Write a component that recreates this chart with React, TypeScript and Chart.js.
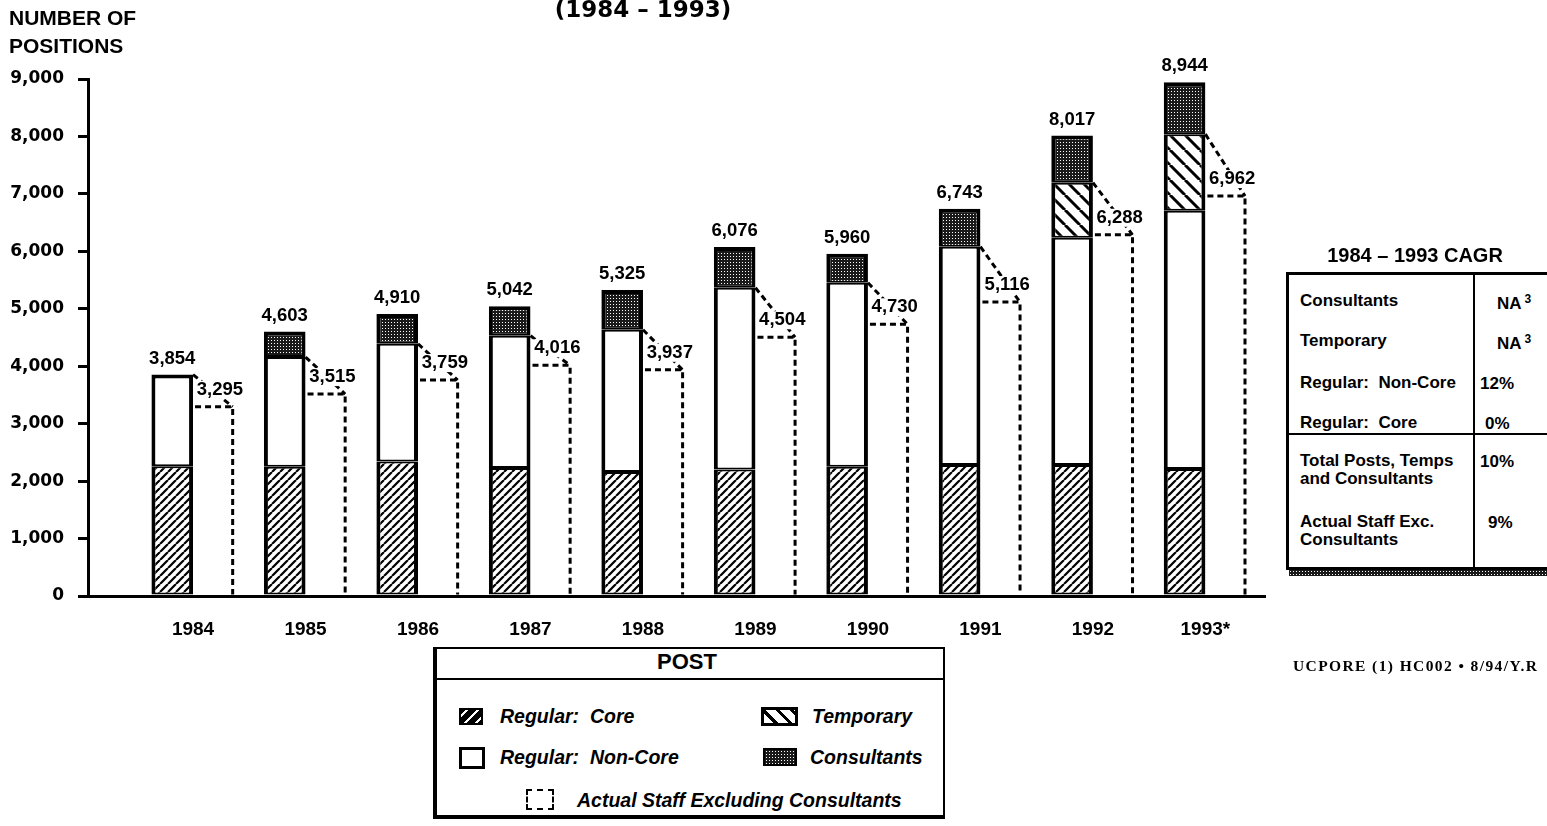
import React, { useEffect, useRef } from 'react';
import { Chart, registerables } from 'chart.js';

Chart.register(...registerables);

// ---------------- data ----------------
const years = ['1984', '1985', '1986', '1987', '1988', '1989', '1990', '1991', '1992', '1993*'];
const regularCore = [2260, 2250, 2340, 2230, 2160, 2200, 2250, 2280, 2280, 2210];
const regularNonCore = [1594, 1910, 2050, 2300, 2474, 3166, 3203, 3800, 3957, 4497];
const temporary = [0, 0, 0, 0, 0, 0, 0, 0, 958, 1333];
const consultants = [0, 443, 520, 512, 691, 710, 507, 663, 822, 904];
const totalPositions = [3854, 4603, 4910, 5042, 5325, 6076, 5960, 6743, 8017, 8944];
const actualStaff = [3295, 3515, 3759, 4016, 3937, 4504, 4730, 5116, 6288, 6962];
const yTicks = [0, 1000, 2000, 3000, 4000, 5000, 6000, 7000, 8000, 9000];

const cagrLabels = ['Consultants', 'Temporary', 'Regular:  Non-Core', 'Regular:  Core', 'Total Posts, Temps\nand Consultants', 'Actual Staff Exc.\nConsultants'];
const cagrValues = ['NA', 'NA', '12%', '0%', '10%', '9%'];
const cagrNotes = ['3', '3', '', '', '', ''];

const legendItems = ['Regular:  Core', 'Regular:  Non-Core', 'Temporary', 'Consultants', 'Actual Staff Excluding Consultants'];

const fmt = (v: number) => v.toLocaleString('en-US');

// ---------------- patterns ----------------
function hatchPattern(ctx: CanvasRenderingContext2D, size: number, dir: '/' | '\\', lw: number) {
  const c = document.createElement('canvas');
  c.width = size;
  c.height = size;
  const x = c.getContext('2d')!;
  x.fillStyle = '#fff';
  x.fillRect(0, 0, size, size);
  x.strokeStyle = '#000';
  x.lineWidth = lw;
  x.beginPath();
  for (const o of [-size, 0, size]) {
    if (dir === '/') {
      x.moveTo(o, size);
      x.lineTo(o + size, 0);
    } else {
      x.moveTo(o, 0);
      x.lineTo(o + size, size);
    }
  }
  x.stroke();
  return ctx.createPattern(c, 'repeat')!;
}

function stipplePattern(ctx: CanvasRenderingContext2D) {
  const c = document.createElement('canvas');
  c.width = 3;
  c.height = 3;
  const x = c.getContext('2d')!;
  x.fillStyle = '#1a1a1a';
  x.fillRect(0, 0, 3, 3);
  x.fillStyle = '#ffffff';
  x.fillRect(1, 1, 1, 1);
  return ctx.createPattern(c, 'repeat')!;
}

// ---------------- overlay plugin ----------------
const overlayPlugin = {
  id: 'overlay',
  afterDatasetsDraw(chart: any) {
    const ctx: CanvasRenderingContext2D = chart.ctx;
    const tempMeta = chart.getDatasetMeta(2);
    const consMeta = chart.getDatasetMeta(3);
    const actMeta = chart.getDatasetMeta(4);
    ctx.save();
    // dashed outline bars for actual staff
    actMeta.data.forEach((el: any, i: number) => {
      const p = el.getProps(['x', 'y', 'base', 'width'], true);
      const s = tempMeta.data[i].getProps(['x', 'y', 'width'], true);
      const left = p.x - p.width / 2;
      const right = p.x + p.width / 2 - 2;
      const sRight = s.x + s.width / 2;
      ctx.strokeStyle = '#000';
      ctx.lineWidth = 3;
      ctx.setLineDash([6, 4]);
      ctx.beginPath();
      ctx.moveTo(sRight, s.y);
      ctx.lineTo(right, p.y);
      ctx.stroke();
      ctx.beginPath();
      ctx.moveTo(left + 2, p.y);
      ctx.lineTo(right, p.y);
      ctx.lineTo(right, p.base);
      ctx.stroke();
    });
    ctx.setLineDash([]);
    // value labels
    ctx.font = 'bold 18.5px "Liberation Sans", Arial, sans-serif';
    ctx.textAlign = 'center';
    ctx.textBaseline = 'middle';
    actMeta.data.forEach((el: any, i: number) => {
      const p = el.getProps(['x', 'y'], true);
      const txt = fmt(actualStaff[i]);
      const w = ctx.measureText(txt).width;
      const cx = p.x + 6;
      const cy = p.y - 17;
      ctx.fillStyle = '#fff';
      ctx.fillRect(cx - w / 2 - 1, cy - 9, w + 2, 18);
      ctx.fillStyle = '#000';
      ctx.fillText(txt, cx, cy);
    });
    consMeta.data.forEach((el: any, i: number) => {
      const p = el.getProps(['x', 'y'], true);
      ctx.fillStyle = '#000';
      ctx.fillText(fmt(totalPositions[i]), p.x, p.y - 16);
    });
    ctx.restore();
  },
};

// ---------------- small text helper ----------------
function Txt(props: { x: number; y: number; size: number; children: any; bold?: boolean; italic?: boolean; center?: boolean; family?: string; style?: any }) {
  const { x, y, size, children, bold = true, italic = false, center = false, family, style } = props;
  return (
    <div
      style={{
        position: 'absolute',
        left: x,
        top: y,
        transform: center ? 'translate(-50%, -50%)' : 'translateY(-50%)',
        fontSize: size,
        fontWeight: bold ? 700 : 400,
        fontStyle: italic ? 'italic' : 'normal',
        fontFamily: family || '"Liberation Sans", Arial, sans-serif',
        whiteSpace: 'pre',
        lineHeight: `${Math.round(size * 1.0)}px`,
        color: '#000',
        ...style,
      }}
    >
      {children}
    </div>
  );
}

const hatchTempCss = 'repeating-linear-gradient(45deg, #fff 0px, #fff 7px, #000 7px, #000 10px)';
const stippleCss = 'radial-gradient(circle, #fff 0.6px, transparent 0.9px) 0 0 / 3px 3px, #1a1a1a';

export default function App() {
  const canvasRef = useRef<HTMLCanvasElement | null>(null);

  useEffect(() => {
    const canvas = canvasRef.current!;
    const ctx = canvas.getContext('2d')!;
    const corePat = hatchPattern(ctx, 8, '/', 2.2);
    const tempPat = hatchPattern(ctx, 15, '\\', 3);
    const consPat = stipplePattern(ctx);

    const pts = (arr: number[]) => arr.map((v, i) => ({ x: i, y: v }));
    const bw = (top: number) => ({ top, bottom: 2, left: 4, right: 4 });

    const chart = new Chart(ctx, {
      type: 'bar',
      data: {
        datasets: [
          { label: 'Regular: Core', data: pts(regularCore), stack: 'posts', backgroundColor: corePat, borderColor: '#000', borderWidth: bw(2), borderSkipped: false },
          {
            label: 'Regular: Non-Core',
            data: pts(regularNonCore),
            stack: 'posts',
            backgroundColor: '#fff',
            borderColor: '#000',
            borderWidth: (c: any) => bw(temporary[c.dataIndex] + consultants[c.dataIndex] === 0 ? 4 : 2),
            borderSkipped: false,
          },
          { label: 'Temporary', data: pts(temporary), stack: 'posts', backgroundColor: tempPat, borderColor: '#000', borderWidth: bw(2), borderSkipped: false },
          { label: 'Consultants', data: pts(consultants), stack: 'posts', backgroundColor: consPat, borderColor: '#000', borderWidth: bw(4), borderSkipped: false },
          { label: 'Actual Staff Excluding Consultants', data: pts(actualStaff), stack: 'actual', backgroundColor: 'rgba(0,0,0,0)', borderWidth: 0 },
        ],
      },
      options: {
        responsive: false,
        animation: false,
        devicePixelRatio: 1,
        categoryPercentage: 0.74,
        barPercentage: 1.0,
        layout: { padding: { left: 8, top: 79, right: 282, bottom: 190 } },
        plugins: { legend: { display: false }, tooltip: { enabled: false }, title: { display: false } },
        scales: {
          x: {
            type: 'linear',
            stacked: true,
            offset: false,
            min: -0.934,
            max: 9.53,
            grid: { display: false, drawTicks: false, offset: false },
            border: { display: true, color: '#000', width: 3 },
            afterFit: (s: any) => {
              s.height = 40;
            },
            afterBuildTicks: (s: any) => {
              s.ticks = years.map((_, i) => ({ value: i }));
            },
            ticks: {
              autoSkip: false,
              maxRotation: 0,
              padding: 22,
              color: '#000',
              font: { family: '"Liberation Sans", Arial, sans-serif', size: 19, weight: 'bold' },
              callback: (v: any) => years[Math.round(v)] ?? '',
            },
          },
          y: {
            stacked: true,
            min: 0,
            max: 9000,
            afterFit: (s: any) => {
              s.width = 80;
            },
            afterBuildTicks: (s: any) => {
              s.ticks = yTicks.map((v) => ({ value: v }));
            },
            grid: { drawOnChartArea: false, drawTicks: true, tickLength: 10, color: '#000', lineWidth: 3 },
            border: { display: true, color: '#000', width: 3 },
            ticks: {
              padding: 14,
              color: '#000',
              font: { family: '"DejaVu Sans", sans-serif', size: 17, weight: 'bold' },
              callback: (v: any) => fmt(Number(v)),
            },
          },
        },
      } as any,
      plugins: [overlayPlugin],
    });
    return () => chart.destroy();
  }, []);

  // CAGR table row centres
  const rowY = [301, 341, 383, 423, 470, 531];
  const valX = [1497, 1497, 1480, 1485, 1480, 1488];

  return (
    <div
      style={{
        position: 'absolute',
        left: 0,
        top: 0,
        width: 1547,
        height: 826,
        overflow: 'hidden',
        background: '#fff',
        fontFamily: '"Liberation Sans", Arial, sans-serif',
      }}
    >
      <canvas ref={canvasRef} width={1547} height={826} style={{ position: 'absolute', left: 0, top: 0 }} />

      {/* titles */}
      <Txt x={643} y={9} size={23} center family='"DejaVu Sans", sans-serif'>
        (1984 – 1993)
      </Txt>
      <Txt x={9} y={17} size={21}>NUMBER OF</Txt>
      <Txt x={9} y={45} size={21}>POSITIONS</Txt>

      {/* CAGR table */}
      <Txt x={1415} y={255} size={20} center>1984 – 1993 CAGR</Txt>
      <div style={{ position: 'absolute', left: 1289, top: 570, width: 270, height: 6, background: stippleCss }} />
      <div style={{ position: 'absolute', left: 1286, top: 272, width: 275, height: 292, border: '3px solid #000', background: '#fff' }}>
        <div style={{ position: 'absolute', left: 184, top: 0, width: 2, height: '100%', background: '#000' }} />
        <div style={{ position: 'absolute', left: 0, top: 158, width: '100%', height: 2, background: '#000' }} />
      </div>
      {cagrLabels.map((l, i) => (
        <Txt key={'cl' + i} x={1300} y={rowY[i]} size={17} style={{ lineHeight: '18px' }}>
          {l}
        </Txt>
      ))}
      {cagrValues.map((v, i) => (
        <Txt key={'cv' + i} x={valX[i]} y={i >= 4 ? rowY[i] - 9 : rowY[i]} size={17}>
          {v}
          {cagrNotes[i] ? <sup style={{ fontSize: 12, marginLeft: 3, verticalAlign: 6 }}>{cagrNotes[i]}</sup> : null}
        </Txt>
      ))}

      {/* legend */}
      <div
        style={{
          position: 'absolute',
          left: 433,
          top: 647,
          width: 506,
          height: 166,
          borderTop: '2px solid #000',
          borderRight: '2px solid #000',
          borderLeft: '4px solid #000',
          borderBottom: '4px solid #000',
          background: '#fff',
        }}
      >
        <div style={{ position: 'absolute', left: 0, top: 29, width: '100%', height: 2, background: '#000' }} />
      </div>
      <Txt x={687} y={662} size={22} center>POST</Txt>

      <div style={{ position: 'absolute', left: 459, top: 708, width: 20, height: 13, border: '2px solid #000', background: 'repeating-linear-gradient(135deg, #000 0px, #000 3px, #fff 3px, #fff 5px, #000 5px, #000 8px)' }} />
      <Txt x={500} y={716} size={19.5} italic>{legendItems[0]}</Txt>

      <div style={{ position: 'absolute', left: 459, top: 747, width: 20, height: 16, border: '3px solid #000', background: '#fff' }} />
      <Txt x={500} y={757} size={19.5} italic>{legendItems[1]}</Txt>

      <div style={{ position: 'absolute', left: 761, top: 707, width: 31, height: 13, border: '3px solid #000', background: hatchTempCss }} />
      <Txt x={812} y={716} size={19.5} italic>{legendItems[2]}</Txt>

      <div style={{ position: 'absolute', left: 763, top: 748, width: 30, height: 14, border: '2px solid #000', background: stippleCss }} />
      <Txt x={810} y={757} size={19.5} italic>{legendItems[3]}</Txt>

      <div style={{ position: 'absolute', left: 526, top: 789, width: 24, height: 17, border: '2px dashed #000', background: '#fff' }} />
      <Txt x={577} y={800} size={19.5} italic>{legendItems[4]}</Txt>

      {/* footer */}
      <Txt x={1293} y={666} size={15.5} family='"Liberation Serif", serif' style={{ letterSpacing: '1.4px' }}>
        UCPORE (1) HC002 • 8/94/Y.R
      </Txt>
    </div>
  );
}
